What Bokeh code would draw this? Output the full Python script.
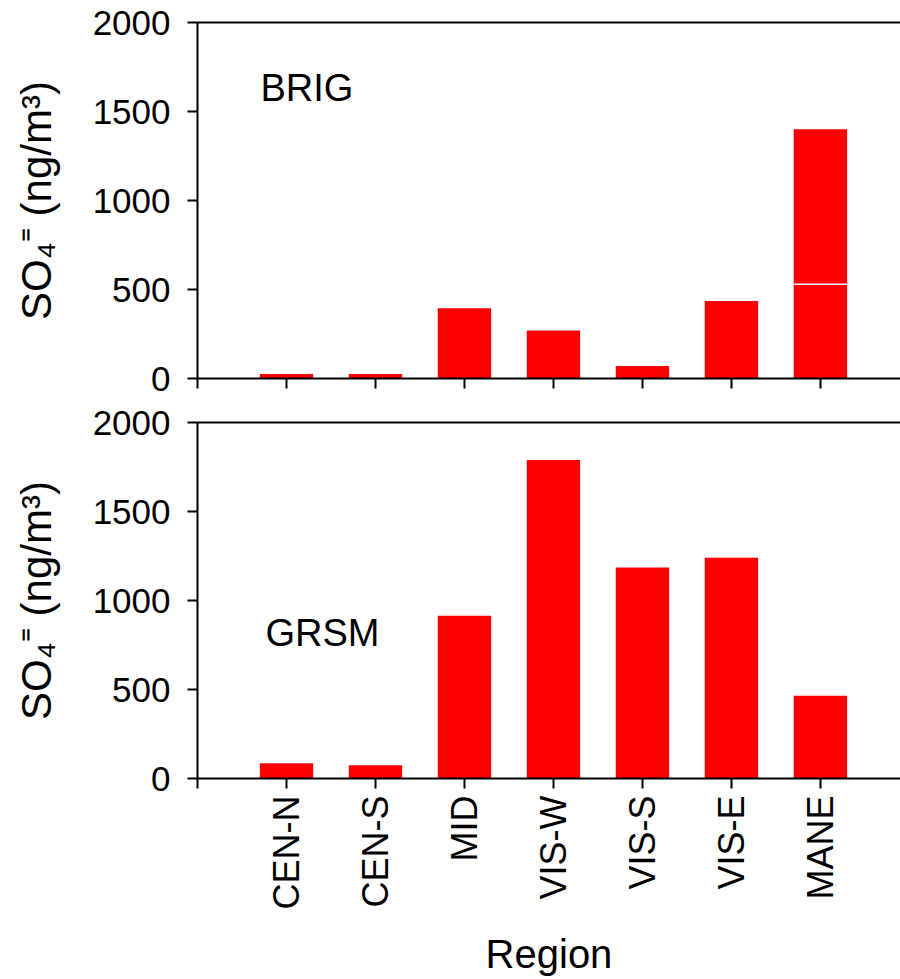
import math
from bokeh.plotting import figure
from bokeh.models import FixedTicker, Label, LinearAxis, Range1d
from bokeh.layouts import column
from bokeh.embed import file_html
from bokeh.resources import INLINE

# ---- data ----
regions = ["CEN-N", "CEN-S", "MID", "VIS-W", "VIS-S", "VIS-E", "MANE"]
brig_lower = [25, 25, 395, 270, 70, 435, 530]
brig_upper = [0, 0, 0, 0, 0, 0, 870]
grsm = [85, 75, 915, 1790, 1185, 1240, 465]
y_ticks = [0, 500, 1000, 1500, 2000]
panel_names = ["BRIG", "GRSM"]
y_title = "SO\u2084\u207c (ng/m\u00b3)"
x_title = "Region"

FONT = "Liberation Sans"
RED = "#ff0000"
X_MAX = 7.9
Y_MAX = 2000
xpos = list(range(1, len(regions) + 1))

FRAME_W = 703
FRAME_H = 356


def sx(px):
    return px * X_MAX / FRAME_W


def sy(px):
    return px * Y_MAX / FRAME_H


def make_panel(height, bottom_border, last):
    p = figure(width=900, height=height, x_range=Range1d(0, X_MAX),
               y_range=Range1d(0, Y_MAX), output_backend="svg",
               toolbar_location=None, min_border_left=197, min_border_right=0,
               min_border_top=22, min_border_bottom=bottom_border)
    p.grid.visible = False
    p.outline_line_color = None

    ya = p.yaxis[0]
    ya.ticker = FixedTicker(ticks=y_ticks)
    ya.major_tick_out = 10
    ya.major_tick_in = 0
    ya.minor_tick_out = 0
    ya.minor_tick_in = 0
    ya.axis_line_width = 2
    ya.major_tick_line_width = 2
    ya.axis_line_color = "black"
    ya.major_tick_line_color = "black"
    ya.major_label_text_font = FONT
    ya.major_label_text_font_size = "35px"
    ya.major_label_text_color = "black"
    ya.major_label_standoff = 17
    ya.axis_label = y_title
    ya.axis_label_text_font = FONT
    ya.axis_label_text_font_size = "42px"
    ya.axis_label_text_font_style = "normal"
    ya.axis_label_text_color = "black"
    ya.axis_label_standoff = 30

    xa = p.xaxis[0]
    xa.ticker = FixedTicker(ticks=[0] + xpos)
    xa.major_tick_out = 10
    xa.major_tick_in = 0
    xa.minor_tick_out = 0
    xa.minor_tick_in = 0
    xa.axis_line_width = 2
    xa.major_tick_line_width = 2
    xa.axis_line_color = "black"
    xa.major_tick_line_color = "black"
    if last:
        ov = {0: ""}
        for i, r in zip(xpos, regions):
            ov[i] = r
        xa.major_label_overrides = ov
        xa.major_label_orientation = math.pi / 2
        xa.major_label_text_font = FONT
        xa.major_label_text_font_size = "36px"
        xa.major_label_text_color = "black"
        xa.major_label_standoff = 7
        xa.axis_label = x_title
        xa.axis_label_text_font = FONT
        xa.axis_label_text_font_size = "40px"
        xa.axis_label_text_font_style = "normal"
        xa.axis_label_text_color = "black"
        xa.axis_label_standoff = 20
    else:
        xa.major_label_overrides = {t: "" for t in [0] + xpos}
        xa.major_label_text_font_size = "1px"

    top = LinearAxis(ticker=FixedTicker(ticks=[]), axis_line_width=2,
                     axis_line_color="black", major_tick_out=0, major_tick_in=0,
                     minor_tick_out=0, minor_tick_in=0,
                     major_label_text_font_size="1px")
    p.add_layout(top, "above")
    return p


top_p = make_panel(400, 22, False)
top_p.vbar(x=xpos, width=0.6, bottom=0, top=brig_lower, fill_color=RED,
           line_color=None)
upper_top = [lo + up for lo, up in zip(brig_lower, brig_upper)]
top_p.vbar(x=xpos, width=0.6, bottom=brig_lower, top=upper_top,
           fill_color=RED, line_color=None)
split_x = [x for x, up in zip(xpos, brig_upper) if up > 0]
split_y = [lo for lo, up in zip(brig_lower, brig_upper) if up > 0]
top_p.segment(x0=[x - 0.3 for x in split_x], x1=[x + 0.3 for x in split_x],
              y0=split_y, y1=split_y, line_color="white", line_width=1.5)
top_p.add_layout(Label(x=sx(63), y=sy(291), text=panel_names[0],
                       text_font=FONT, text_font_size="38px",
                       text_color="black", text_baseline="alphabetic"))

bot_p = make_panel(579, 201, True)
bot_p.vbar(x=xpos, width=0.6, bottom=0, top=grsm, fill_color=RED,
           line_color=None)
bot_p.add_layout(Label(x=sx(68), y=sy(146), text=panel_names[1],
                       text_font=FONT, text_font_size="38px",
                       text_color="black", text_baseline="alphabetic"))

layout = column(top_p, bot_p, spacing=0)
open("out.html", "w").write(file_html(layout, INLINE))
